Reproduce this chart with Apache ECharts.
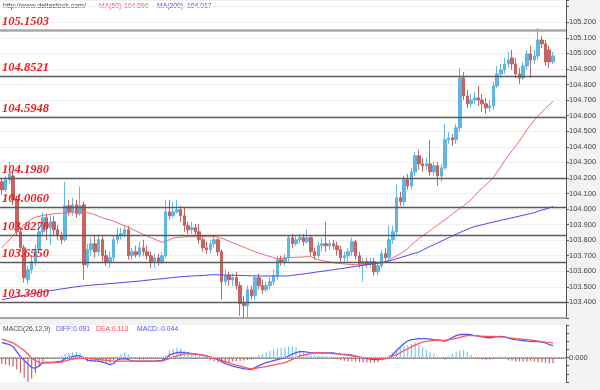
<!DOCTYPE html>
<html><head><meta charset="utf-8">
<script src="https://cdn.jsdelivr.net/npm/echarts@6/dist/echarts.min.js"></script>
<style>html,body{margin:0;padding:0;background:#f2f2f2}#c{width:600px;height:390px}</style>
</head><body><div id="c"></div>
<script>
// candles: [open, close, low, high]
const ohlc = [
[104.175,104.124,104.092,104.201],[104.124,104.188,104.111,104.213],[104.188,104.226,104.162,104.303],[104.213,104.059,104.027,104.239],
[104.059,103.854,103.828,104.085],[103.854,103.751,103.726,103.880],[103.751,103.559,103.527,103.771],[103.546,103.610,103.514,103.636],
[103.610,103.662,103.585,103.706],[103.662,103.739,103.636,103.771],[103.739,103.854,103.713,103.918],[103.854,103.944,103.828,103.976],
[103.944,103.880,103.803,103.970],[103.880,103.918,103.771,103.963],[103.918,103.867,103.828,103.957],[103.867,103.828,103.803,103.899],
[103.828,103.803,103.771,103.854],[103.803,104.021,103.790,104.175],[104.021,103.982,103.957,104.059],[103.982,104.027,103.957,104.072],
[104.027,103.970,103.944,104.059],[103.970,104.021,103.957,104.143],[104.027,103.642,103.546,104.047],[103.642,103.739,103.623,103.777],
[103.739,103.777,103.700,103.816],[103.777,103.726,103.687,103.828],[103.726,103.803,103.700,103.835],[103.803,103.700,103.662,103.828],
[103.700,103.662,103.636,103.739],[103.662,103.687,103.623,103.726],[103.687,103.803,103.662,103.828],[103.803,103.828,103.777,103.880],
[103.828,103.841,103.803,103.880],[103.841,103.867,103.816,103.899],[103.867,103.700,103.674,103.893],[103.700,103.726,103.674,103.751],
[103.726,103.706,103.687,103.764],[103.706,103.751,103.687,103.790],[103.751,103.726,103.700,103.803],[103.726,103.700,103.674,103.764],
[103.700,103.662,103.623,103.726],[103.662,103.687,103.623,103.713],[103.687,103.662,103.636,103.713],[103.662,103.700,103.649,103.726],
[103.700,103.982,103.687,104.059],[103.982,103.957,103.931,104.059],[103.957,103.982,103.944,104.047],[103.982,103.995,103.970,104.059],
[103.995,103.957,103.918,104.021],[103.957,103.893,103.854,104.008],[103.893,103.867,103.841,103.918],[103.867,103.880,103.841,103.918],
[103.880,103.854,103.828,103.905],[103.854,103.803,103.777,103.905],[103.803,103.751,103.726,103.828],[103.751,103.739,103.713,103.790],
[103.739,103.777,103.713,103.803],[103.777,103.803,103.751,103.828],[103.803,103.726,103.700,103.816],[103.726,103.533,103.418,103.739],
[103.533,103.572,103.508,103.610],[103.572,103.546,103.508,103.597],[103.546,103.559,103.508,103.585],[103.559,103.508,103.482,103.597],
[103.508,103.392,103.315,103.533],[103.392,103.379,103.302,103.443],[103.379,103.482,103.302,103.508],[103.482,103.443,103.418,103.508],
[103.443,103.559,103.418,103.572],[103.559,103.508,103.482,103.585],[103.508,103.482,103.456,103.546],[103.482,103.508,103.469,103.533],
[103.508,103.533,103.482,103.559],[103.533,103.572,103.508,103.610],[103.572,103.674,103.546,103.700],[103.674,103.662,103.636,103.700],
[103.662,103.687,103.636,103.713],[103.687,103.816,103.662,103.828],[103.816,103.777,103.751,103.841],[103.777,103.803,103.764,103.828],
[103.803,103.816,103.777,103.841],[103.816,103.790,103.764,103.841],[103.790,103.816,103.777,103.867],[103.816,103.726,103.700,103.828],
[103.726,103.700,103.674,103.751],[103.700,103.764,103.687,103.790],[103.764,103.777,103.726,103.816],[103.777,103.764,103.726,103.918],
[103.764,103.777,103.739,103.803],[103.777,103.764,103.739,103.803],[103.764,103.739,103.700,103.790],[103.739,103.687,103.662,103.764],
[103.687,103.700,103.662,103.726],[103.700,103.726,103.662,103.751],[103.726,103.790,103.700,103.816],[103.790,103.700,103.674,103.803],
[103.700,103.649,103.623,103.726],[103.649,103.662,103.533,103.687],[103.662,103.649,103.623,103.687],[103.649,103.662,103.623,103.687],
[103.662,103.597,103.572,103.687],[103.597,103.636,103.572,103.662],[103.636,103.713,103.623,103.739],[103.713,103.687,103.662,103.751],
[103.687,103.803,103.662,103.893],[103.803,103.854,103.777,103.893],[103.854,104.072,103.828,104.156],[104.072,104.047,104.021,104.111],
[104.047,104.188,104.021,104.213],[104.188,104.149,104.124,104.226],[104.149,104.239,104.124,104.265],[104.239,104.342,104.213,104.368],
[104.342,104.290,104.252,104.380],[104.290,104.278,104.239,104.329],[104.278,104.290,104.252,104.329],[104.290,104.239,104.213,104.445],
[104.239,104.278,104.213,104.303],[104.278,104.213,104.149,104.303],[104.213,104.265,104.175,104.290],[104.265,104.445,104.252,104.547],
[104.445,104.457,104.419,104.496],[104.457,104.445,104.406,104.483],[104.445,104.522,104.419,104.547],[104.522,104.842,104.496,104.907],
[104.842,104.727,104.701,104.881],[104.727,104.676,104.650,104.765],[104.676,104.701,104.650,104.740],[104.701,104.714,104.676,104.753],
[104.714,104.701,104.663,104.791],[104.701,104.676,104.624,104.740],[104.676,104.650,104.611,104.714],[104.650,104.663,104.624,104.701],
[104.663,104.791,104.637,104.817],[104.791,104.868,104.778,104.919],[104.868,104.894,104.842,104.932],[104.894,104.932,104.868,104.971],
[104.932,104.958,104.907,105.009],[104.971,104.932,104.894,105.022],[104.932,104.868,104.842,104.971],[104.868,104.842,104.804,104.907],
[104.842,104.919,104.830,104.945],[104.919,104.996,104.894,105.022],[104.996,104.958,104.842,105.048],[104.958,104.984,104.932,105.022],
[104.984,105.086,104.958,105.163],[105.086,105.061,105.035,105.112],[105.061,104.945,104.919,105.086],[105.022,104.945,104.907,105.048],
[104.945,104.984,104.932,105.009]
];
const ma50 = [
103.751,103.777,103.803,103.828,103.860,103.880,103.899,103.918,103.937,103.947,
103.953,103.959,103.963,103.966,103.970,103.972,103.974,103.976,103.978,103.980,
103.981,103.982,103.979,103.976,103.972,103.963,103.953,103.944,103.936,103.931,
103.923,103.912,103.902,103.891,103.883,103.870,103.859,103.848,103.838,103.827,
103.816,103.807,103.796,103.787,103.790,103.803,103.814,103.817,103.819,103.821,
103.822,103.822,103.822,103.822,103.822,103.822,103.822,103.822,103.821,103.812,
103.803,103.793,103.783,103.774,103.764,103.755,103.745,103.735,103.726,103.717,
103.710,103.702,103.695,103.687,103.681,103.682,103.685,103.687,103.688,103.690,
103.691,103.692,103.694,103.694,103.684,103.674,103.669,103.665,103.660,103.656,
103.652,103.649,103.647,103.645,103.644,103.643,103.642,103.642,103.644,103.647,
103.650,103.653,103.656,103.662,103.673,103.687,103.700,103.713,103.729,103.745,
103.771,103.790,103.812,103.828,103.844,103.860,103.880,103.896,103.915,103.931,
103.950,103.970,103.986,104.005,104.021,104.040,104.059,104.085,104.114,104.136,
104.156,104.178,104.204,104.239,104.271,104.310,104.342,104.374,104.406,104.438,
104.473,104.509,104.541,104.573,104.598,104.624,104.647,104.669,104.692
];
const ma200 = [
103.418,103.422,103.427,103.432,103.436,103.441,103.446,103.450,103.455,103.459,
103.464,103.469,103.472,103.476,103.479,103.483,103.487,103.490,103.494,103.497,
103.501,103.504,103.507,103.509,103.511,103.513,103.515,103.517,103.519,103.521,
103.523,103.525,103.527,103.529,103.531,103.533,103.535,103.538,103.540,103.543,
103.545,103.548,103.550,103.552,103.555,103.557,103.560,103.563,103.565,103.566,
103.568,103.570,103.571,103.572,103.573,103.575,103.577,103.578,103.577,103.577,
103.576,103.575,103.575,103.574,103.573,103.573,103.572,103.571,103.571,103.570,
103.570,103.570,103.570,103.570,103.570,103.570,103.570,103.571,103.574,103.577,
103.580,103.583,103.586,103.590,103.593,103.597,103.600,103.603,103.607,103.610,
103.614,103.617,103.620,103.624,103.628,103.632,103.635,103.639,103.642,103.646,
103.649,103.653,103.656,103.660,103.667,103.674,103.681,103.688,103.695,103.702,
103.710,103.717,103.724,103.736,103.748,103.760,103.771,103.782,103.793,103.805,
103.816,103.827,103.838,103.849,103.860,103.870,103.880,103.888,103.894,103.899,
103.905,103.911,103.916,103.922,103.928,103.933,103.938,103.944,103.949,103.955,
103.960,103.966,103.971,103.977,103.986,103.993,104.000,104.008,104.017
];
const diff = [
0.115,0.108,0.100,0.085,0.046,0.008,-0.023,-0.050,-0.077,-0.081,
-0.065,-0.038,-0.038,-0.037,-0.035,-0.031,-0.027,-0.008,0.002,0.008,
0.015,0.012,0.000,-0.021,-0.023,-0.027,-0.028,-0.035,-0.042,-0.054,
-0.046,-0.018,-0.010,-0.008,-0.015,-0.028,-0.028,-0.028,-0.028,-0.028,
-0.028,-0.027,-0.023,-0.021,-0.008,0.019,0.031,0.038,0.041,0.038,
0.036,0.031,0.027,0.023,0.019,0.012,0.004,-0.004,-0.015,-0.031,
-0.046,-0.056,-0.065,-0.073,-0.079,-0.085,-0.088,-0.092,-0.077,-0.062,
-0.050,-0.038,-0.031,-0.023,-0.015,-0.008,0.000,0.012,0.027,0.038,
0.046,0.046,0.041,0.036,0.036,0.036,0.036,0.036,0.036,0.036,
0.031,0.027,0.025,0.023,0.019,0.012,0.004,-0.004,-0.008,-0.012,
-0.015,-0.015,-0.012,-0.008,0.000,0.023,0.054,0.081,0.108,0.127,
0.138,0.142,0.146,0.146,0.145,0.142,0.138,0.135,0.131,0.127,
0.138,0.154,0.169,0.177,0.177,0.177,0.175,0.169,0.164,0.159,
0.154,0.152,0.156,0.160,0.163,0.159,0.150,0.142,0.138,0.135,
0.131,0.127,0.125,0.123,0.122,0.119,0.112,0.100,0.091
];
const dea = [
0.141,0.133,0.123,0.113,0.094,0.073,0.054,0.027,-0.005,-0.023,
-0.038,-0.041,-0.041,-0.041,-0.038,-0.037,-0.034,-0.026,-0.018,-0.011,
-0.007,-0.005,-0.003,-0.005,-0.008,-0.012,-0.015,-0.018,-0.022,-0.024,
-0.027,-0.028,-0.028,-0.028,-0.028,-0.028,-0.028,-0.028,-0.028,-0.028,
-0.028,-0.028,-0.028,-0.028,-0.018,-0.008,0.004,0.013,0.021,0.027,
0.031,0.028,0.026,0.024,0.018,0.011,0.004,-0.004,-0.011,-0.021,
-0.031,-0.041,-0.051,-0.059,-0.066,-0.074,-0.081,-0.086,-0.082,-0.078,
-0.073,-0.069,-0.062,-0.056,-0.051,-0.045,-0.038,-0.027,-0.014,-0.002,
0.012,0.018,0.025,0.030,0.035,0.036,0.035,0.034,0.032,0.031,
0.028,0.025,0.021,0.018,0.014,0.010,0.006,0.002,-0.002,-0.005,
-0.006,-0.008,-0.009,-0.008,0.000,0.012,0.023,0.037,0.054,0.068,
0.082,0.096,0.109,0.119,0.124,0.128,0.132,0.132,0.132,0.132,
0.137,0.142,0.148,0.155,0.162,0.168,0.169,0.168,0.166,0.165,
0.163,0.162,0.162,0.160,0.159,0.157,0.153,0.150,0.146,0.143,
0.140,0.137,0.134,0.131,0.127,0.123,0.119,0.116,0.113
];
const macdHist = [
-0.05,-0.055,-0.06,-0.07,-0.09,-0.12,-0.155,-0.185,-0.16,-0.12,
-0.07,-0.03,0.004,0.005,0.006,0.008,0.015,0.03,0.035,0.04,
0.045,0.035,0.005,-0.03,-0.03,-0.032,-0.028,-0.035,-0.038,-0.04,
-0.02,0.01,0.03,0.04,0.025,-0.005,-0.01,-0.015,-0.015,-0.012,
-0.01,-0.01,-0.008,-0.006,0.02,0.055,0.065,0.075,0.07,0.05,
0.04,0.035,0.03,0.02,0.01,-0.01,-0.02,-0.03,-0.035,-0.038,
-0.04,-0.035,-0.03,-0.028,-0.025,-0.022,-0.018,-0.015,0.008,0.02,
0.03,0.04,0.05,0.06,0.07,0.075,0.08,0.085,0.085,0.08,
0.06,0.045,0.03,0.02,0.018,0.015,0.012,0.01,0.006,-0.01,
-0.015,-0.02,-0.025,-0.03,-0.03,-0.032,-0.035,-0.035,-0.038,-0.04,
-0.04,-0.035,-0.02,-0.008,0.02,0.04,0.06,0.075,0.085,0.095,
0.105,0.113,0.1,0.08,0.06,0.045,0.03,0.01,-0.01,-0.015,
0.01,0.03,0.045,0.055,0.06,0.045,0.02,-0.01,-0.012,-0.015,
-0.018,-0.015,-0.01,0.006,0.01,0.008,-0.02,-0.025,-0.03,-0.03,
-0.028,-0.03,-0.025,-0.03,-0.035,-0.035,-0.04,-0.045,-0.044
];
const levels = [105.1503, 104.8521, 104.5948, 104.1980, 104.0060, 103.8270, 103.6550, 103.3980];
const lastPrice = 104.984;
const headerUrl = 'http://www.deltastock.com/';
const ma50Label = ['MA(50)', '104.690'];
const ma200Label = ['MA(200)', '104.017'];
const macdLabels = ['MACD(26,12,9)', 'DIFF:0.091', 'DEA:0.113', 'MACD:-0.044'];
const categories = [];
for (let i = 0; i < 152; i++) categories.push(String(i + 1));

const UP = '#55b1e1', DOWN = '#c25a58';
const chart = echarts.init(document.getElementById('c'));
const levelItems = levels.map((v, i) => ({
  yAxis: v,
  lineStyle: i === 0 ? {color: '#a8a8a8', width: 2.5, type: 'solid'} : {color: '#5a5a5a', width: 1.4, type: 'solid'},
  label: {show: true, position: 'insideStartTop', distance: 2, formatter: v.toFixed(4),
    color: '#f01c1c', fontFamily: 'Liberation Serif', fontStyle: 'italic', fontWeight: 'bold', fontSize: 12.5}
}));
levelItems.push({
  yAxis: lastPrice, lineStyle: {opacity: 0},
  label: {show: true, position: 'end', distance: -2, offset: [0, 3], formatter: lastPrice.toFixed(3),
    backgroundColor: '#8fd0f3', color: '#222', fontSize: 7.5, fontFamily: 'Liberation Sans', padding: [1, 2, 1, 3]}
});
const font = (s) => s + 'px "Liberation Sans"';
chart.setOption({
  animation: false,
  backgroundColor: '#f2f2f2',
  grid: [
    {left: 0, right: 34, top: 0, height: 318, show: true, backgroundColor: '#fff', borderWidth: 0},
    {left: 0, right: 34, top: 325, height: 57, show: true, backgroundColor: '#fff', borderWidth: 0}
  ],
  xAxis: [
    {type: 'category', gridIndex: 0, data: categories, boundaryGap: true,
     axisLine: {show: true, lineStyle: {color: '#a8a8a8', width: 2}}, axisTick: {show: false}, axisLabel: {show: false}},
    {type: 'category', gridIndex: 1, data: categories, boundaryGap: true,
     axisLine: {show: true, lineStyle: {color: '#999', width: 2}}, axisTick: {show: false}, axisLabel: {show: false}}
  ],
  yAxis: [
    {type: 'value', gridIndex: 0, position: 'right', min: 103.3, max: 105.343, interval: 0.1, scale: true,
     axisLine: {show: true, lineStyle: {color: '#555'}}, axisTick: {show: true, length: 3, lineStyle: {color: '#555'}},
     axisLabel: {color: '#444', fontSize: 7.5, fontFamily: 'Liberation Sans', margin: 3,
       formatter: v => (v > 103.35 && v < 105.25) ? v.toFixed(3) : ''},
     splitLine: {show: true, lineStyle: {color: '#efefef'}}},
    {type: 'value', gridIndex: 1, position: 'right', min: -0.1875, max: 0.25, interval: 0.0625,
     axisLine: {show: true, lineStyle: {color: '#555'}}, axisTick: {show: true, length: 3, lineStyle: {color: '#555'}},
     axisLabel: {color: '#444', fontSize: 7.5, fontFamily: 'Liberation Sans', margin: 3,
       formatter: v => Math.abs(v) < 1e-9 ? '0.000' : ''},
     splitLine: {show: false}}
  ],
  graphic: [
    {type: 'text', x: 3, y: 3, style: {text: headerUrl, font: font(7), fill: '#444'}},
    {type: 'text', x: 99, y: 3, style: {text: ma50Label[0], font: font(6.8), fill: '#ff4f60'}},
    {type: 'text', x: 124, y: 3, style: {text: ma50Label[1], font: font(6.8), fill: '#ff4f60'}},
    {type: 'text', x: 157, y: 3, style: {text: ma200Label[0], font: font(6.8), fill: '#4a4aff'}},
    {type: 'text', x: 187, y: 3, style: {text: ma200Label[1], font: font(6.8), fill: '#4a4aff'}},
    {type: 'text', x: 3, y: 326, style: {text: macdLabels[0], font: font(6.8), fill: '#444'}},
    {type: 'text', x: 56, y: 326, style: {text: macdLabels[1], font: font(6.8), fill: '#5050ff'}},
    {type: 'text', x: 96, y: 326, style: {text: macdLabels[2], font: font(6.8), fill: '#ff4a5a'}},
    {type: 'text', x: 137, y: 326, style: {text: macdLabels[3], font: font(6.8), fill: '#5050ff'}}
  ],
  series: [
    {type: 'candlestick', xAxisIndex: 0, yAxisIndex: 0, data: ohlc, barWidth: 3, clip: false,
     itemStyle: {color: UP, color0: DOWN, borderColor: UP, borderColor0: DOWN, borderWidth: 1, opacity: 0.92},
     markLine: {silent: true, symbol: ['none', 'none'], animation: false, data: levelItems}},
    {type: 'line', xAxisIndex: 0, yAxisIndex: 0, data: ma50, showSymbol: false, symbol: 'none',
     lineStyle: {color: '#f46a6a', width: 1}},
    {type: 'line', xAxisIndex: 0, yAxisIndex: 0, data: ma200, showSymbol: false, symbol: 'none',
     lineStyle: {color: '#4646f0', width: 1}},
    {type: 'bar', xAxisIndex: 1, yAxisIndex: 1, data: macdHist, barWidth: 1.2,
     itemStyle: {color: p => p.value >= 0 ? '#7cc6ea' : '#c86666'},
     markLine: {silent: true, symbol: ['none', 'none'], label: {show: false},
       lineStyle: {color: '#d8d8d8', type: 'dotted', width: 1}, data: [{yAxis: 0}]}},
    {type: 'line', xAxisIndex: 1, yAxisIndex: 1, data: diff, showSymbol: false, symbol: 'none',
     lineStyle: {color: '#5555ff', width: 1.3}},
    {type: 'line', xAxisIndex: 1, yAxisIndex: 1, data: dea, showSymbol: false, symbol: 'none',
     lineStyle: {color: '#ff5555', width: 1.3}}
  ]
});
</script>
</body></html>
